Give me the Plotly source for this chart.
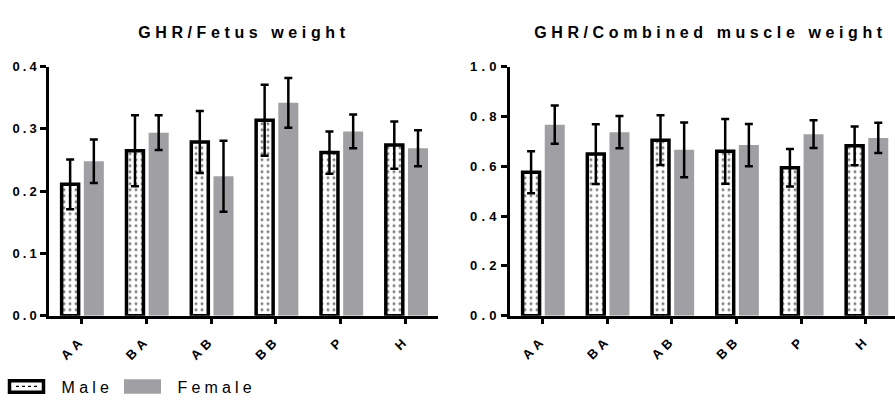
import plotly.graph_objects as go

# Genotype groups
groups = ["AA", "BA", "AB", "BB", "P", "H"]

# GHR / fetus weight (mean, error)
fetus_male = [0.211, 0.265, 0.279, 0.314, 0.262, 0.274]
fetus_male_err = [0.040, 0.057, 0.050, 0.057, 0.034, 0.038]
fetus_female = [0.248, 0.294, 0.224, 0.342, 0.296, 0.269]
fetus_female_err = [0.035, 0.028, 0.057, 0.040, 0.027, 0.029]

# GHR / combined muscle weight (mean, error)
muscle_male = [0.576, 0.649, 0.705, 0.660, 0.594, 0.682]
muscle_male_err = [0.084, 0.120, 0.100, 0.130, 0.075, 0.078]
muscle_female = [0.767, 0.737, 0.666, 0.685, 0.729, 0.714]
muscle_female_err = [0.077, 0.065, 0.110, 0.085, 0.056, 0.061]

W, H = 895, 405
FONT = "Arial, Liberation Sans, sans-serif"
GRAY = "#a0a0a4"


def px_x(p):
    return p / W


def px_y(p):
    return 1 - p / H


fig = go.Figure()


def add_pair(male, male_err, female, female_err, xa, ya):
    fig.add_trace(go.Bar(
        x=groups, y=male, name="Male", xaxis=xa, yaxis=ya,
        offset=-0.305, width=0.262,
        marker=dict(color="white",
                    line=dict(color="black", width=3.5),
                    pattern=dict(shape=".", fgcolor="black", bgcolor="white",
                                 size=6, solidity=0.2)),
        error_y=dict(type="data", array=male_err, color="black",
                     thickness=2.5, width=4),
        showlegend=False,
    ))
    fig.add_trace(go.Bar(
        x=groups, y=female, name="Female", xaxis=xa, yaxis=ya,
        offset=0.037, width=0.309,
        marker=dict(color=GRAY, line=dict(width=0)),
        error_y=dict(type="data", array=female_err, color="black",
                     thickness=2.5, width=4),
        showlegend=False,
    ))


add_pair(fetus_male, fetus_male_err, fetus_female, fetus_female_err, "x", "y")
add_pair(muscle_male, muscle_male_err, muscle_female, muscle_female_err, "x2", "y2")

y_dom = [px_y(320.5), px_y(62)]
axis_common = dict(showline=True, linecolor="black", linewidth=2.5,
                   ticks="outside", ticklen=6, tickwidth=2.5, tickcolor="black",
                   showgrid=False, zeroline=False,
                   tickfont=dict(family=FONT, size=13, color="black", weight="bold"))

fig.update_layout(
    width=W, height=H,
    margin=dict(l=0, r=0, t=0, b=0),
    paper_bgcolor="white", plot_bgcolor="white",
    barmode="overlay",
    showlegend=False,
    xaxis=dict(domain=[px_x(49), px_x(438)], range=[-0.5, 5.5], anchor="y",
               tickangle=-45, ticklabelstandoff=3, **axis_common),
    yaxis=dict(domain=y_dom, range=[0, 0.4], dtick=0.1, tickformat=".1f",
               anchor="x", ticklabelstandoff=-2, **axis_common),
    xaxis2=dict(domain=[px_x(510), 1.0], range=[-0.5, 5.45], anchor="y2",
                tickangle=-45, ticklabelstandoff=3, **axis_common),
    yaxis2=dict(domain=y_dom, range=[0, 1.0], dtick=0.2, tickformat=".1f",
                anchor="x2", ticklabelstandoff=-2, **axis_common),
)

# Panel titles
titles = [("GHR/Fetus weight", 244), ("GHR/Combined muscle weight", 711)]
for text, cx in titles:
    fig.add_annotation(text=text, x=px_x(cx), y=px_y(26), xref="paper", yref="paper",
                       xanchor="center", yanchor="middle", showarrow=False,
                       font=dict(family=FONT, size=16, color="black", weight="bold"))

# Legend drawn below the left panel
fig.add_shape(type="rect", xref="paper", yref="paper",
              x0=px_x(9.5), x1=px_x(43.5), y0=px_y(400), y1=px_y(388),
              fillcolor="white", line=dict(color="black", width=3.5))
fig.add_shape(type="line", xref="paper", yref="paper",
              x0=px_x(16), x1=px_x(38), y0=px_y(394), y1=px_y(394),
              line=dict(color="black", width=1.3, dash="dot"))
fig.add_shape(type="rect", xref="paper", yref="paper",
              x0=px_x(124), x1=px_x(161), y0=px_y(401.5), y1=px_y(386.5),
              fillcolor=GRAY, line=dict(width=0))
for text, cx in [("Male", 87), ("Female", 216)]:
    fig.add_annotation(text=text, x=px_x(cx), y=px_y(395), xref="paper", yref="paper",
                       xanchor="center", yanchor="middle", showarrow=False,
                       font=dict(family=FONT, size=16, color="black"))

# Wide letter spacing on all chart text
post_js = """
var gd = document.getElementById('{plot_id}');
gd.querySelectorAll('text').forEach(function (t) {
  var s = 3;
  if (t.closest('g.xtick')) { s = 4.5; }
  else if (t.closest('g.ytick')) { s = 3; }
  else if (t.textContent.indexOf('GHR') === 0) { s = 4.6; }
  else { s = 4.2; }
  t.setAttribute('letter-spacing', s + 'px');
});
"""

fig.write_html("out.html", post_script=post_js)
